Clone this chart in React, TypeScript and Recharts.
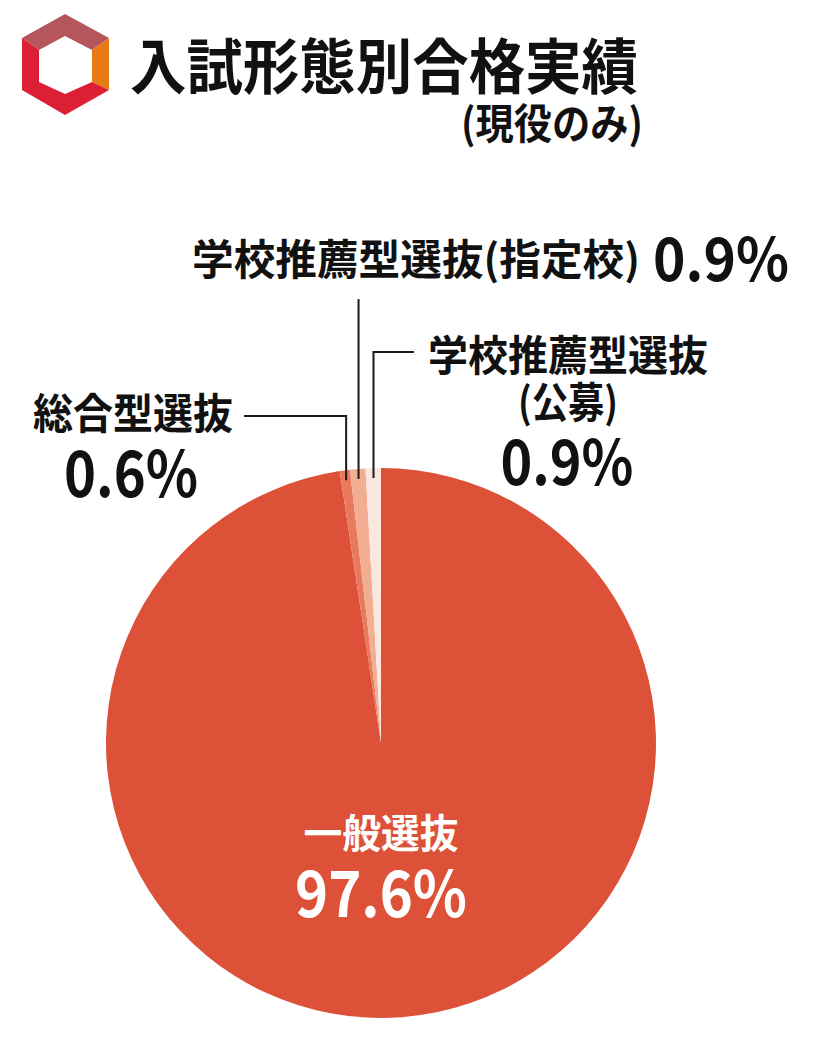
import React from 'react';
import { PieChart, Pie, Cell } from 'recharts';

// 入試形態別の割合（現役のみ）
const categories = ['一般選抜', '総合型選抜', '学校推薦型選抜(指定校)', '学校推薦型選抜(公募)'];
const shares = [97.6, 0.6, 0.9, 0.9];
const sliceColors = ['#DD5138', '#E8795D', '#F1AE93', '#FBE7DE'];

const data = categories.map((name, i) => ({ name, value: shares[i] }));

const FONT = "'Noto Sans CJK JP', 'Noto Sans', sans-serif";
const RAD = Math.PI / 180;

// ラベルの配置（スライス順）
const labelLayout: any[] = [
  { inside: true, nameX: 381, nameY: 848, nameSize: 40, nameLen: 155, valX: 381, valY: 917, valSize: 64, valLen: 172 },
  { bendY: 416, endX: 244, nameX: 133, nameY: 429, nameSize: 42, nameLen: 200, valX: 131, valY: 497, valSize: 64, valLen: 134 },
  { bendY: 299, nameX: 192, nameY: 275, nameSize: 42, nameLen: 448, nameAnchor: 'start', valX: 789, valY: 281, valSize: 60, valLen: 136, valAnchor: 'end' },
  { bendY: 352, endX: 414, split: true, nameX: 568, nameY: 371, nameSize: 42, nameLen: 280, name2Y: 418, name2Len: 100, valX: 567, valY: 485, valSize: 62, valLen: 133 },
];

// eslint-disable-next-line @typescript-eslint/no-explicit-any
const renderLabel = (props: any) => {
  const { cx, cy, midAngle, outerRadius, index, name, value } = props;
  const cfg = labelLayout[index];
  const color = cfg.inside ? '#fff' : '#111';
  const lines: string[] = cfg.split ? String(name).split(/(?=\()/) : [String(name)];

  let path = null;
  if (!cfg.inside) {
    const r = outerRadius - 10;
    const x0 = cx + r * Math.cos(-midAngle * RAD);
    const y0 = cy + r * Math.sin(-midAngle * RAD);
    let d = `M${x0},${y0} L${x0},${cfg.bendY}`;
    if (cfg.endX !== undefined) d += ` L${cfg.endX},${cfg.bendY}`;
    path = <path d={d} stroke="#1a1a1a" strokeWidth={2} fill="none" />;
  }

  return (
    <g key={`label-${index}`}>
      {path}
      <text
        x={cfg.nameX}
        y={cfg.nameY}
        textAnchor={cfg.nameAnchor || 'middle'}
        fontFamily={FONT}
        fontWeight={700}
        fontSize={cfg.nameSize}
        fill={color}
        textLength={cfg.nameLen}
        lengthAdjust="spacingAndGlyphs"
      >
        {lines[0]}
      </text>
      {lines[1] && (
        <text
          x={cfg.nameX}
          y={cfg.name2Y}
          textAnchor="middle"
          fontFamily={FONT}
          fontWeight={700}
          fontSize={cfg.nameSize}
          fill={color}
          textLength={cfg.name2Len}
          lengthAdjust="spacingAndGlyphs"
        >
          {lines[1]}
        </text>
      )}
      <text
        x={cfg.valX}
        y={cfg.valY}
        textAnchor={cfg.valAnchor || 'middle'}
        fontFamily={FONT}
        fontWeight={700}
        fontSize={cfg.valSize}
        fill={color}
        textLength={cfg.valLen}
        lengthAdjust="spacingAndGlyphs"
      >
        {`${value}%`}
      </text>
    </g>
  );
};

const Header = () => (
  <svg width={818} height={160} style={{ position: 'absolute', left: 0, top: 0 }}>
    {/* ロゴ */}
    <polygon points="22,38 65,14 109,38 92,50 65,36 39,50" fill="#B4565C" />
    <polygon points="109,38 109,90 92,82 92,50" fill="#E77C15" />
    <polygon points="109,90 65,115 22,90 22,38 39,50 39,82 65,94 92,82" fill="#DC1F33" />
    <text
      x={130}
      y={89}
      fontFamily={FONT}
      fontWeight={700}
      fontSize={60}
      fill="#111"
      textLength={508}
      lengthAdjust="spacingAndGlyphs"
    >
      入試形態別合格実績
    </text>
    <text
      x={461}
      y={139}
      fontFamily={FONT}
      fontWeight={700}
      fontSize={42}
      fill="#111"
      textLength={182}
      lengthAdjust="spacingAndGlyphs"
    >
      (現役のみ)
    </text>
  </svg>
);

export default function App() {
  return (
    <div style={{ position: 'absolute', left: 0, top: 0, width: 818, height: 1050, background: '#fff' }}>
      <PieChart width={818} height={1050} margin={{ top: 0, right: 0, bottom: 0, left: 0 }}>
        <Pie
          data={data}
          dataKey="value"
          nameKey="name"
          cx={381}
          cy={743}
          outerRadius={275}
          startAngle={90}
          endAngle={-270}
          stroke="none"
          label={renderLabel}
          labelLine={false}
          isAnimationActive={false}
        >
          {data.map((d, i) => (
            <Cell key={d.name} fill={sliceColors[i]} />
          ))}
        </Pie>
      </PieChart>
      <Header />
    </div>
  );
}
